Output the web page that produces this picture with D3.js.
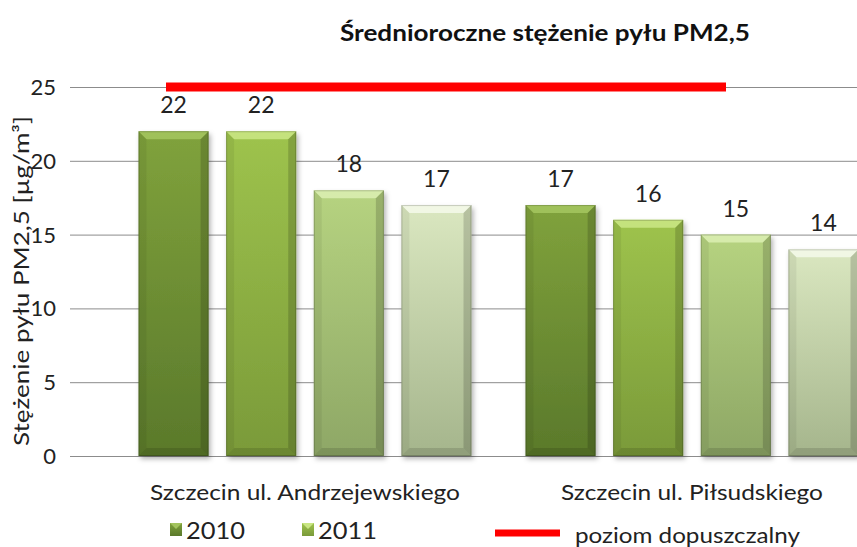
<!DOCTYPE html>
<html>
<head>
<meta charset="utf-8">
<script src="https://cdn.jsdelivr.net/npm/d3@7"></script>
<style>
  body { margin: 0; background: #fff; }
  svg { display: block; font-family: Lato, "Open Sans", sans-serif; }
</style>
</head>
<body>
<svg id="chart" width="857" height="547"></svg>
<script>
// data
const categories = ["Szczecin ul. Andrzejewskiego", "Szczecin ul. Piłsudskiego"];
const series = ["2010", "2011", "2012", "2013"];
const values = [
  [22, 22, 18, 17],
  [17, 16, 15, 14]
];
const limitValues = [25, 25, 25, 25, 25];
const limitLabel = "poziom dopuszczalny";
const yTicks = [0, 5, 10, 15, 20, 25];
const legendShown = ["2010", "2011"];

// colours per series: top, bottom, bevel light
const colors = [
  { top: "#80a23c", bot: "#5a792b", hi: "#a3c45e" },
  { top: "#9ec34d", bot: "#7a9a39", hi: "#c9e683" },
  { top: "#b6d380", bot: "#8ea766", hi: "#d9edb0" },
  { top: "#dae7c0", bot: "#a5b58c", hi: "#f3f8e8" }
];

// text widths measured on the reference (calibri-like font is wider than Lato)
const catWidths = [310, 262];

const svg = d3.select("#chart");
const defs = svg.append("defs");

colors.forEach((c, i) => {
  const g = defs.append("linearGradient")
    .attr("id", "grad" + i)
    .attr("x1", 0).attr("y1", 0).attr("x2", 0).attr("y2", 1);
  g.append("stop").attr("offset", "0%").attr("stop-color", c.top);
  g.append("stop").attr("offset", "100%").attr("stop-color", c.bot);
});

const shadow = defs.append("filter").attr("id", "shadow")
  .attr("x", "-10%").attr("y", "-10%").attr("width", "130%").attr("height", "130%");
shadow.append("feDropShadow")
  .attr("dx", 2).attr("dy", 3).attr("stdDeviation", 2.5)
  .attr("flood-color", "#000").attr("flood-opacity", 0.3);

const y = d3.scaleLinear().domain([0, 25]).range([456, 87]);
const x0 = d3.scaleBand().domain(categories).range([111.5, 885.5]);
const x1 = d3.scaleBand().domain(series).range([27, 360]).paddingInner(0.2);
const xLimit = d3.scalePoint().domain(d3.range(limitValues.length)).range([166, 726]);

// grid lines
svg.append("g")
  .selectAll("line")
  .data(yTicks)
  .join("line")
  .attr("x1", 70).attr("x2", 857)
  .attr("y1", d => y(d) + 0.5).attr("y2", d => y(d) + 0.5)
  .attr("stroke", "#8c8c8c")
  .attr("stroke-width", 1);

// y tick labels
svg.append("g")
  .selectAll("text")
  .data(yTicks)
  .join("text")
  .attr("x", 56)
  .attr("y", d => y(d) + 8)
  .attr("text-anchor", "end")
  .attr("font-size", 22)
  .attr("fill", "#222")
  .text(d => d);

// y axis title
svg.append("text")
  .attr("transform", "translate(29," + 281 + ") rotate(-90)")
  .attr("text-anchor", "middle")
  .attr("font-size", 21)
  .attr("fill", "#222")
  .attr("textLength", 330)
  .attr("lengthAdjust", "spacingAndGlyphs")
  .text("Stężenie pyłu PM2,5 [µg/m³]");

// title
svg.append("text")
  .attr("x", 545).attr("y", 41)
  .attr("text-anchor", "middle")
  .attr("font-size", 22)
  .attr("font-weight", "bold")
  .attr("fill", "#111")
  .attr("textLength", 410)
  .attr("lengthAdjust", "spacingAndGlyphs")
  .text("Średnioroczne stężenie pyłu PM2,5");

// bars
const groups = svg.append("g")
  .selectAll("g")
  .data(categories)
  .join("g")
  .attr("transform", d => "translate(" + x0(d) + ",0)");

const bars = groups.selectAll("g.bar")
  .data((d, i) => values[i].map((v, j) => ({ v, j })))
  .join("g")
  .attr("class", "bar");

const bw = x1.bandwidth();
const bev = 8;

bars.append("rect")
  .attr("x", d => x1(series[d.j]))
  .attr("y", d => y(d.v))
  .attr("width", bw)
  .attr("height", d => y(0) - y(d.v))
  .attr("fill", d => "url(#grad" + d.j + ")")
  .attr("filter", "url(#shadow)");

// top bevel
bars.append("polygon")
  .attr("points", d => {
    const l = x1(series[d.j]), t = y(d.v);
    return [[l, t], [l + bw, t], [l + bw - bev, t + bev], [l + bev, t + bev]].join(" ");
  })
  .attr("fill", d => colors[d.j].hi)
  .attr("opacity", 0.9);

// left bevel
bars.append("polygon")
  .attr("points", d => {
    const l = x1(series[d.j]), t = y(d.v), b = y(0);
    return [[l, t], [l + bev, t + bev], [l + bev, b - bev], [l, b]].join(" ");
  })
  .attr("fill", "#000").attr("opacity", 0.06);

// right bevel
bars.append("polygon")
  .attr("points", d => {
    const l = x1(series[d.j]), t = y(d.v), b = y(0);
    return [[l + bw, t], [l + bw - bev, t + bev], [l + bw - bev, b - bev], [l + bw, b]].join(" ");
  })
  .attr("fill", "#000").attr("opacity", 0.16);

// bottom bevel
bars.append("polygon")
  .attr("points", d => {
    const l = x1(series[d.j]), b = y(0);
    return [[l, b], [l + bev, b - bev], [l + bw - bev, b - bev], [l + bw, b]].join(" ");
  })
  .attr("fill", "#000").attr("opacity", 0.12);

// outline
bars.append("rect")
  .attr("x", d => x1(series[d.j]) + 0.5)
  .attr("y", d => y(d.v) + 0.5)
  .attr("width", bw - 1)
  .attr("height", d => y(0) - y(d.v) - 1)
  .attr("fill", "none")
  .attr("stroke", "#000")
  .attr("stroke-opacity", 0.18);

// value labels
bars.append("text")
  .attr("x", d => x1(series[d.j]) + bw / 2)
  .attr("y", d => y(d.v) - 18)
  .attr("text-anchor", "middle")
  .attr("font-size", 23)
  .attr("fill", "#222")
  .text(d => d.v);

// category labels
svg.append("g")
  .selectAll("text")
  .data(categories)
  .join("text")
  .attr("x", d => x0(d) + x0.bandwidth() / 2)
  .attr("y", 500)
  .attr("text-anchor", "middle")
  .attr("font-size", 22)
  .attr("fill", "#222")
  .attr("textLength", (d, i) => catWidths[i])
  .attr("lengthAdjust", "spacingAndGlyphs")
  .text(d => d);

// limit line
const line = d3.line()
  .x((d, i) => xLimit(i))
  .y(d => y(d));

svg.append("path")
  .datum(limitValues)
  .attr("d", line)
  .attr("fill", "none")
  .attr("stroke", "#ff0000")
  .attr("stroke-width", 9);

// legend
const legX = [170, 302];
const leg = svg.append("g")
  .selectAll("g")
  .data(legendShown)
  .join("g")
  .attr("transform", (d, i) => "translate(" + legX[i] + ",523)");

leg.append("rect")
  .attr("width", 12).attr("height", 13)
  .attr("fill", (d, i) => "url(#grad" + i + ")");
leg.append("polygon")
  .attr("points", "0,0 12,0 6,6")
  .attr("fill", (d, i) => colors[i].hi);
leg.append("text")
  .attr("x", 16).attr("y", 16)
  .attr("font-size", 23)
  .attr("fill", "#222")
  .attr("textLength", 59)
  .attr("lengthAdjust", "spacingAndGlyphs")
  .text(d => d);

svg.append("line")
  .attr("x1", 495).attr("x2", 560)
  .attr("y1", 533).attr("y2", 533)
  .attr("stroke", "#ff0000")
  .attr("stroke-width", 7);
svg.append("text")
  .attr("x", 575).attr("y", 543)
  .attr("font-size", 22)
  .attr("fill", "#222")
  .attr("textLength", 225)
  .attr("lengthAdjust", "spacingAndGlyphs")
  .text(limitLabel);
</script>
</body>
</html>
